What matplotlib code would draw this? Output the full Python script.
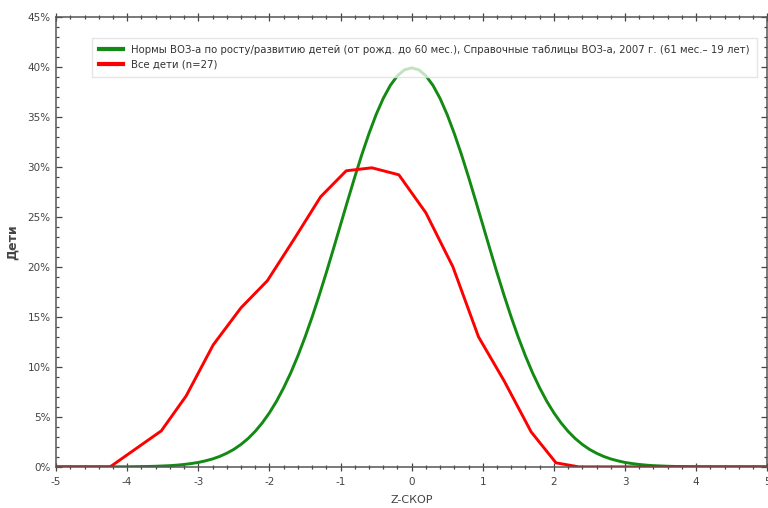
import matplotlib
matplotlib.use('Agg')
import numpy as np
import matplotlib.pyplot as plt
from matplotlib.ticker import MultipleLocator, FuncFormatter

# WHO reference curve (% of children by z-score), symmetric around 0
who_z_half = [0.0, 0.1, 0.2, 0.3, 0.4, 0.5, 0.6, 0.7, 0.8, 0.9, 1.0, 1.1, 1.2, 1.3, 1.4, 1.5,
              1.6, 1.7, 1.8, 1.9, 2.0, 2.1, 2.2, 2.3, 2.4, 2.5, 2.6, 2.7, 2.8, 2.9, 3.0, 3.1,
              3.2, 3.3, 3.4, 3.5, 3.6, 3.7, 3.8, 3.9, 4.0, 4.5, 5.0]
who_pct_half = [39.89, 39.70, 39.10, 38.14, 36.83, 35.21, 33.32, 31.23, 28.97, 26.61, 24.20,
                21.79, 19.42, 17.14, 14.97, 12.95, 11.09, 9.40, 7.90, 6.56, 5.40, 4.40, 3.55,
                2.83, 2.24, 1.75, 1.36, 1.04, 0.79, 0.60, 0.44, 0.33, 0.24, 0.17, 0.12, 0.09,
                0.06, 0.04, 0.03, 0.02, 0.01, 0.0, 0.0]
who_z = [-z for z in who_z_half[::-1]] + who_z_half[1:]
who_pct = who_pct_half[::-1] + who_pct_half[1:]

# all children in sample (n=27)
kids_z = [-5.0, -4.24, -3.52, -3.17, -2.79, -2.40, -2.03, -1.65, -1.28, -0.92, -0.56, -0.18,
          0.20, 0.58, 0.94, 1.30, 1.68, 2.03, 2.35, 5.0]
kids_pct = [0.0, 0.0, 3.6, 7.1, 12.2, 15.9, 18.6, 22.8, 27.0, 29.6, 29.9, 29.2,
            25.4, 20.0, 13.0, 8.6, 3.5, 0.4, 0.0, 0.0]

fig = plt.figure(figsize=(7.68, 5.08), dpi=100)
ax = fig.add_axes([0.073, 0.081, 0.926, 0.886])

ax.plot(who_z, who_pct, color='#138a13', lw=2.1,
        label='Нормы ВОЗ-а по росту/развитию детей (от рожд. до 60 мес.), Справочные таблицы ВОЗ-а, 2007 г. (61 мес.– 19 лет)')
ax.plot(kids_z, kids_pct, color='#ff0000', lw=2.1, label='Все дети (n=27)')

ax.set_xlim(-5, 5)
ax.set_ylim(0, 45)
ax.xaxis.set_major_locator(MultipleLocator(1))
ax.xaxis.set_minor_locator(MultipleLocator(0.2))
ax.yaxis.set_major_locator(MultipleLocator(5))
ax.yaxis.set_minor_locator(MultipleLocator(1))
ax.yaxis.set_major_formatter(FuncFormatter(lambda v, p: f'{v:.0f}%'))
ax.xaxis.set_major_formatter(FuncFormatter(lambda v, p: f'{v:.0f}'))

for s in ax.spines.values():
    s.set_color('#555555')
    s.set_linewidth(1.1)
ax.tick_params(axis='both', which='both', colors='#444444', labelsize=7.5, width=0.9)
ax.tick_params(axis='y', which='both', direction='in', right=True, pad=4)
ax.tick_params(axis='y', which='major', length=4)
ax.tick_params(axis='y', which='minor', length=2)
ax.tick_params(axis='x', which='both', direction='inout', top=True, pad=4)
ax.tick_params(axis='x', which='major', length=6)
ax.tick_params(axis='x', which='minor', length=3)

ax.set_xlabel('Z-СКОР', fontsize=8, color='#444444', labelpad=6)
ax.set_ylabel('Дети', fontsize=9, color='#444444', fontweight='bold', labelpad=6)

leg = ax.legend(loc='upper left', bbox_to_anchor=(0.043, 0.965), fontsize=7.3,
                handlelength=2.4, frameon=True, fancybox=False, framealpha=0.75,
                edgecolor='#dddddd', borderpad=0.7, labelspacing=0.5)
for ln in leg.get_lines():
    ln.set_linewidth(3)
for t in leg.get_texts():
    t.set_color('#333333')

fig.savefig('out.png', dpi=100)
